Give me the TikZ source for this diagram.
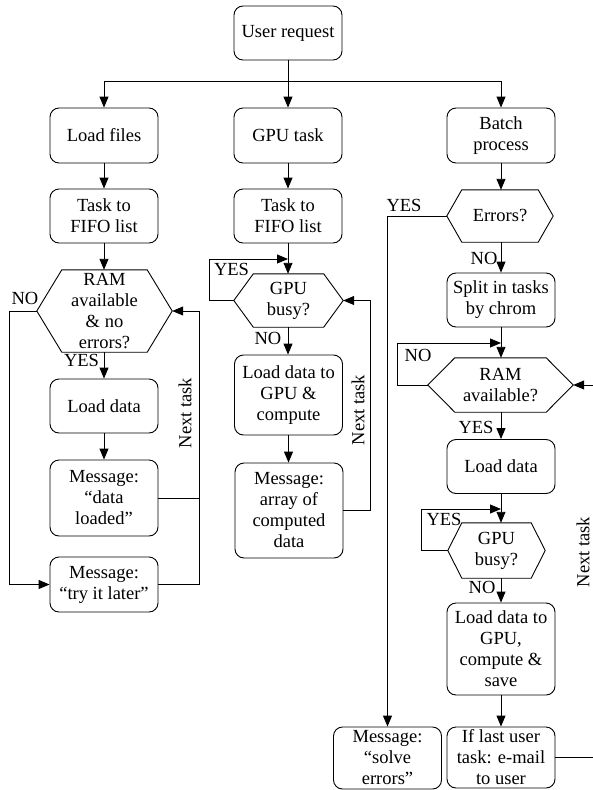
\documentclass[tikz,border=0pt]{standalone}
\usepackage{fontspec}
\setmainfont{Liberation Serif}
\newfontfamily\chartfont{Liberation Serif}
\usetikzlibrary{arrows.meta,calc}
\tikzset{
  base/.style={inner sep=0pt, align=center, font=\chartfont\fontsize{18.5}{21}\selectfont},
  box/.style={base, draw, rounded corners=9pt, minimum width=108pt, line width=0.9pt},
  hexa/.style={base},
  lbl/.style={inner sep=0pt, font=\chartfont\fontsize{18.5}{21}\selectfont},
  ln/.style={line width=0.9pt},
  arr/.style={line width=0.9pt, -{Triangle[length=11pt,width=9pt]}},
}
\begin{document}
\begin{tikzpicture}[x=1pt,y=-1pt]
\useasboundingbox (0,0) rectangle (592,790);

% top
\node[box, minimum height=54pt] (user) at (288,33) {User request};
\node[box, minimum height=55pt] (loadf) at (104,135.5) {Load files};
\node[box, minimum height=55pt] (gput) at (288,135.5) {GPU task};
\node[box, minimum height=55pt] (batch) at (501,135.5) {Batch\\process};

% left column
\node[box, minimum height=54pt] (fifo1) at (104,216) {Task to\\FIFO list};
\node[hexa, minimum width=135pt, minimum height=82pt] (ram1) at (104.5,311) {RAM\\available\\\& no\\errors?};
\node[box, minimum height=54pt] (ld1) at (104,406) {Load data};
\node[box, minimum height=76pt] (msg1) at (104,498) {Message:\\“data\\loaded”};
\node[box, minimum height=55pt] (try) at (104,584.5) {Message:\\“try it later”};

% middle column
\node[box, minimum height=54pt] (fifo2) at (288,216) {Task to\\FIFO list};
\node[hexa, minimum width=109pt, minimum height=53pt] (gpu1) at (288.5,300.5) {GPU\\busy?};
\node[box, minimum height=80pt] (ldg1) at (288.5,395) {Load data to\\GPU \&\\compute};
\node[box, minimum height=95pt] (arr1) at (289,510.5) {Message:\\array of\\computed\\data};

% right column
\node[hexa, minimum width=106pt, minimum height=52pt] (err) at (500,216) {Errors?};
\node[box, minimum height=54pt] (split) at (501,300) {Split in tasks\\by chrom};
\node[hexa, minimum width=145pt, minimum height=54pt] (ram2) at (500.5,385) {RAM\\available?};
\node[box, minimum height=54pt] (ld2) at (501,466.5) {Load data};
\node[hexa, minimum width=97pt, minimum height=55pt] (gpu2) at (496.5,550.5) {GPU\\busy?};
\node[box, minimum height=92pt] (ldg2) at (501,649) {Load data to\\GPU,\\compute \&\\save};
\node[box, minimum height=61pt] (last) at (501,757.5) {If last user\\task: e-mail\\to user};
\node[box, minimum height=62pt] (solve) at (387.5,758) {Message:\\“solve\\errors”};

% hexagon outlines
\foreach \h/\d in {ram1/25,gpu1/19.5,err/15,ram2/27,gpu2/14}
  \draw[ln] (\h.west) -- ([xshift=\d]\h.north west) -- ([xshift=-\d]\h.north east)
    -- (\h.east) -- ([xshift=-\d]\h.south east) -- ([xshift=\d]\h.south west) -- cycle;

% branching from the request
\coordinate (br) at (288,81);
\draw[arr] (user.south) -- (gput.north);
\draw[arr] (br) -| (loadf.north);
\draw[arr] (br) -| (batch.north);

% left column connectors
\draw[arr] (loadf.south) -- (fifo1.north);
\draw[arr] (fifo1.south) -- (fifo1.south |- ram1.north);
\draw[arr] (ld1.north |- ram1.south) -- (ld1.north);
\draw[arr] (ld1.south) -- (msg1.north);
\coordinate (r1) at (199,311);
\coordinate (l1) at (9,311);
\draw[arr] (try.east) -| (r1) -- (ram1.east);
\draw[ln] (msg1.east) -- (msg1.east -| r1);
\draw[arr] (ram1.west) -- (l1) |- (try.west);

% middle column connectors
\draw[arr] (gput.south) -- (fifo2.north);
\draw[arr] (fifo2.south) -- (fifo2.south |- gpu1.north);
\coordinate (y1) at (209,259);
\draw[arr] (gpu1.west) -| (y1) -- (y1 -| fifo2.south);
\draw[arr] (fifo2.south |- gpu1.south) -- (fifo2.south |- ldg1.north);
\draw[arr] (ldg1.south) -- (ldg1.south |- arr1.north);
\coordinate (r2) at (370,300.5);
\draw[arr] (arr1.east) -| (r2) -- (gpu1.east);

% right column connectors
\draw[arr] (batch.south) -- (batch.south |- err.north);
\coordinate (e1) at (387.5,216);
\draw[arr] (err.west) -- (e1) -- (solve.north);
\draw[arr] (split.north |- err.south) -- (split.north);
\draw[arr] (split.south) -- (split.south |- ram2.north);
\coordinate (n2) at (397,343);
\draw[arr] (ram2.west) -| (n2) -- (n2 -| split.south);
\draw[arr] (ld2.north |- ram2.south) -- (ld2.north);
\draw[arr] (ld2.south) -- (ld2.south |- gpu2.north);
\coordinate (y2) at (421,509);
\draw[arr] (gpu2.west) -| (y2) -- (y2 -| ld2.south);
\draw[arr] (ldg2.north |- gpu2.south) -- (ldg2.north);
\draw[arr] (ldg2.south) -- (last.north);
\coordinate (r3) at (595,385);
\draw[arr] (last.east) -| (r3) -- (ram2.east);

% branch labels
\node[lbl] (t1) at (25,298) {NO};
\node[lbl] (t2) at (81.5,360) {YES};
\node[lbl] (t3) at (231.5,269) {YES};
\node[lbl] (t4) at (268,338) {NO};
\node[lbl] (t5) at (404,205) {YES};
\node[lbl] (t6) at (484,258) {NO};
\node[lbl] (t7) at (418,355) {NO};
\node[lbl] (t8) at (476,427) {YES};
\node[lbl] (t9) at (444,519) {YES};
\node[lbl] (t10) at (482,587) {NO};

% loop-back labels
\node[lbl, rotate=90] (nt1) at (185,413) {Next task};
\node[lbl, rotate=90] (nt2) at (358,410) {Next task};
\node[lbl, rotate=90] (nt3) at (583,552) {Next task};
\end{tikzpicture}
\end{document}
